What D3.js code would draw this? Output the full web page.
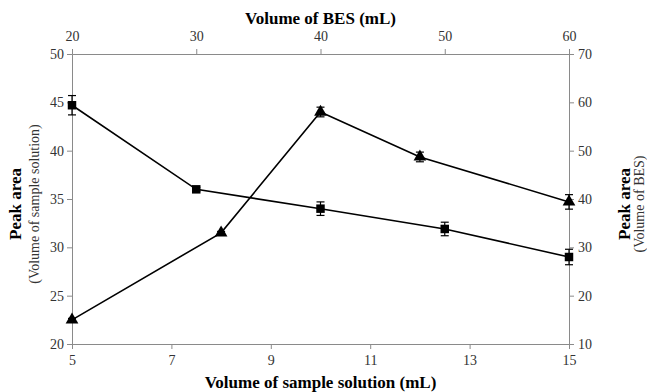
<!DOCTYPE html>
<html>
<head>
<meta charset="utf-8">
<script src="https://cdn.jsdelivr.net/npm/d3@7"></script>
<style>
body { margin: 0; background: #fff; }
text { font-family: "Liberation Serif", "Times New Roman", serif; }
</style>
</head>
<body>
<svg id="chart" width="647" height="392"></svg>
<script>
// sample solution series (bottom x, left y)
var sampleVol = [5, 7.5, 10, 12.5, 15];
var sampleArea = [44.7, 36.0, 34.0, 31.9, 29.0];
var sampleErr = [1.0, 0.2, 0.7, 0.7, 0.8];
// BES series (top x, right y)
var besVol = [20, 32, 40, 48, 60];
var besArea = [15.0, 33.0, 58.0, 48.7, 39.4];
var besErr = [0.3, 0.3, 1.0, 1.0, 1.5];

var bottomTicks = [5, 7, 9, 11, 13, 15];
var topTicks = [20, 30, 40, 50, 60];
var leftTicks = [20, 25, 30, 35, 40, 45, 50];
var rightTicks = [10, 20, 30, 40, 50, 60, 70];

var svg = d3.select("#chart");
var L = 72, R = 569, T = 54, B = 344;

var xB = d3.scaleLinear().domain([5, 15]).range([L, R]);
var xT = d3.scaleLinear().domain([20, 60]).range([L, R]);
var yL = d3.scaleLinear().domain([20, 50]).range([B, T]);
var yR = d3.scaleLinear().domain([10, 70]).range([B, T]);

function styleAxis(g) {
  g.attr("font-family", "'Liberation Serif', serif");
  g.selectAll("path,line").attr("stroke", "#8a8a8a").attr("stroke-width", 1);
  g.selectAll("text").attr("font-size", 14).attr("fill", "#333");
}

svg.append("g").attr("transform", "translate(0," + B + ")")
  .call(d3.axisBottom(xB).tickValues(bottomTicks).tickSizeOuter(0).tickSize(5).tickPadding(6))
  .call(styleAxis);
svg.append("g").attr("transform", "translate(0," + T + ")")
  .call(d3.axisTop(xT).tickValues(topTicks).tickSizeOuter(0).tickSize(5).tickPadding(8))
  .call(styleAxis);
svg.append("g").attr("transform", "translate(" + L + ",0)")
  .call(d3.axisLeft(yL).tickValues(leftTicks).tickSizeOuter(0).tickSize(5).tickPadding(3))
  .call(styleAxis);
svg.append("g").attr("transform", "translate(" + R + ",0)")
  .call(d3.axisRight(yR).tickValues(rightTicks).tickSizeOuter(0).tickSize(5).tickPadding(4))
  .call(styleAxis);

// titles
svg.append("text").attr("x", (L + R) / 2).attr("y", 24).attr("text-anchor", "middle")
  .attr("font-size", 17).attr("font-weight", "bold").text("Volume of BES (mL)");
svg.append("text").attr("x", (L + R) / 2).attr("y", 388).attr("text-anchor", "middle")
  .attr("font-size", 17).attr("font-weight", "bold").text("Volume of sample solution (mL)");

var cy = 204;
svg.append("text").attr("transform", "translate(21," + cy + ") rotate(-90)")
  .attr("text-anchor", "middle").attr("font-size", 17).attr("font-weight", "bold").text("Peak area");
svg.append("text").attr("transform", "translate(39," + cy + ") rotate(-90)")
  .attr("text-anchor", "middle").attr("font-size", 14).attr("fill", "#333").text("(Volume of sample solution)");
svg.append("text").attr("transform", "translate(630," + cy + ") rotate(-90)")
  .attr("text-anchor", "middle").attr("font-size", 17).attr("font-weight", "bold").text("Peak area");
svg.append("text").attr("transform", "translate(644," + cy + ") rotate(-90)")
  .attr("text-anchor", "middle").attr("font-size", 14).attr("fill", "#333").text("(Volume of BES)");

function drawSeries(xs, ys, errs, xs_, ys_, shape) {
  var pts = xs.map(function(v, i) { return [xs_(v), ys_(ys[i]), errs[i]]; });
  svg.append("path").datum(pts)
    .attr("d", d3.line().x(function(d) { return d[0]; }).y(function(d) { return d[1]; }))
    .attr("fill", "none").attr("stroke", "#000").attr("stroke-width", 1.6);
  var eb = svg.append("g").attr("stroke", "#000").attr("stroke-width", 1.2);
  pts.forEach(function(p, i) {
    var y1 = ys_(ys[i] + p[2]), y2 = ys_(ys[i] - p[2]);
    eb.append("line").attr("x1", p[0]).attr("x2", p[0]).attr("y1", y1).attr("y2", y2);
    eb.append("line").attr("x1", p[0] - 4).attr("x2", p[0] + 4).attr("y1", y1).attr("y2", y1);
    eb.append("line").attr("x1", p[0] - 4).attr("x2", p[0] + 4).attr("y1", y2).attr("y2", y2);
  });
  svg.append("g").selectAll("path").data(pts).enter().append("path")
    .attr("transform", function(d) { return "translate(" + d[0] + "," + d[1] + ")"; })
    .attr("d", d3.symbol().type(shape).size(shape === d3.symbolSquare ? 72 : 70))
    .attr("fill", "#000");
}

drawSeries(sampleVol, sampleArea, sampleErr, xB, yL, d3.symbolSquare);
drawSeries(besVol, besArea, besErr, xT, yR, d3.symbolTriangle);
</script>
</body>
</html>
